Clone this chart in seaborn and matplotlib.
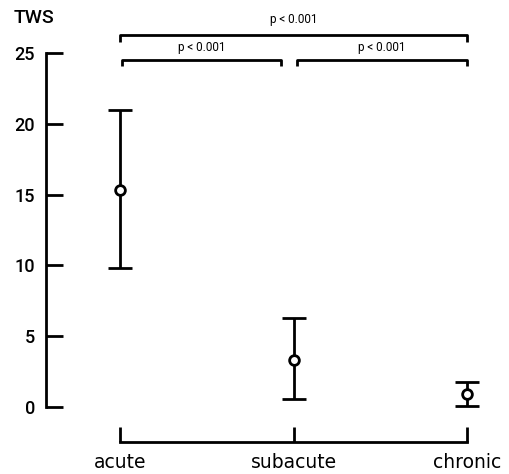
import matplotlib
matplotlib.use("Agg")
import matplotlib.pyplot as plt
import seaborn as sns
import pandas as pd

categories = ["acute", "subacute", "chronic"]
means = [15.3, 3.35, 0.95]
lower = [9.8, 0.6, 0.05]
upper = [21.0, 6.3, 1.75]
yticks = [0, 5, 10, 15, 20, 25]
p_labels = ["p < 0.001", "p < 0.001", "p < 0.001"]

sns.set_theme(style="ticks")
plt.rcParams["font.family"] = ["Roboto", "DejaVu Sans"]
plt.rcParams["text.color"] = "black"
plt.rcParams["xtick.color"] = "black"
plt.rcParams["ytick.color"] = "black"

df = pd.DataFrame({"group": categories, "TWS": means})

fig = plt.figure(figsize=(5.10, 4.74), dpi=100)
ax = fig.add_axes([46 / 510, 32 / 474, 464 / 510, 389 / 474])

xpos = list(range(len(categories)))
yerr = [[m - l for m, l in zip(means, lower)], [u - m for m, u in zip(means, upper)]]
ax.errorbar(xpos, means, yerr=yerr, fmt="none", ecolor="black", elinewidth=2.0,
            capsize=8.5, capthick=2.0, zorder=2)
sns.pointplot(data=df, x="group", y="TWS", order=categories, linestyle="none",
              markers="o", color="black", errorbar=None, ax=ax, zorder=3,
              markersize=7, markerfacecolor="white", markeredgecolor="black",
              markeredgewidth=2.0)

ax.set_xlim(-0.43, 2.25)
ax.set_ylim(-2.47, 25)
ax.set_yticks(yticks)
ax.set_xticks(xpos)
ax.set_xticklabels(categories, fontsize=13.5, family=["DejaVu Sans"])
ax.set_yticklabels([str(t) for t in yticks], fontsize=13, fontweight="medium")
ax.set_xlabel("")
ax.set_ylabel("")
for s in ["top", "right"]:
    ax.spines[s].set_visible(False)
ax.spines["left"].set_bounds(0, 25)
ax.spines["bottom"].set_bounds(0, 2)
ax.spines["left"].set_linewidth(2.0)
ax.spines["bottom"].set_linewidth(2.0)
ax.spines["left"].set_color("black")
ax.spines["bottom"].set_color("black")
ax.tick_params(axis="y", direction="in", length=12, width=2.0, pad=8, colors="black")
ax.tick_params(axis="x", direction="in", length=11, width=2.0, pad=8, colors="black")

def bracket(x0, x1, y, drop, label, ly):
    ax.plot([x0, x0, x1, x1], [y - drop, y, y, y - drop], color="black", lw=2.0,
            clip_on=False, solid_capstyle="butt")
    ax.text((x0 + x1) / 2, ly, label, ha="center", va="center", fontsize=8.5,
            color="black")

bracket(0.0, 2.0, 26.27, 0.5, p_labels[0], 27.35)
bracket(0.01, 0.93, 24.5, 0.4, p_labels[1], 25.4)
bracket(1.02, 2.0, 24.5, 0.4, p_labels[2], 25.4)

fig.text(14 / 510, 1 - 18 / 474, "TWS", ha="left", va="center", fontsize=14,
         fontweight="medium", color="black")

fig.savefig("out.png", dpi=100)
